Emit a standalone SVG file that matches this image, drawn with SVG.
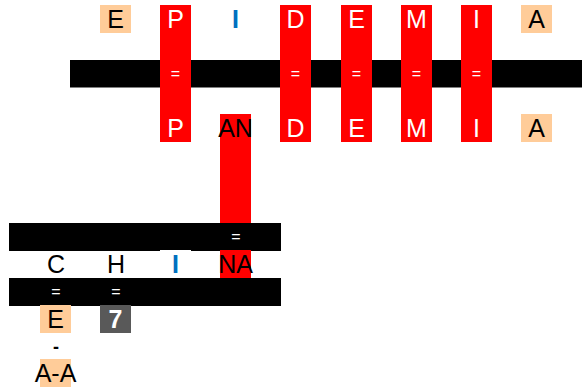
<svg xmlns="http://www.w3.org/2000/svg" width="582" height="390" viewBox="0 0 582 390">
<style>
.band{fill:#000}
.red{fill:#ff0000}
.peach{fill:#ffcc99}
.gray{fill:#595959}
.white{fill:#fff}
text{font-family:"Liberation Sans",Arial,sans-serif;text-anchor:middle}
.l{font-size:25px;fill:#000}
.lw{font-size:25px;fill:#fff}
.lb{font-size:25px;fill:#0070c0;font-weight:bold}
.eq{font-size:16px;fill:#fff}
.dash{font-size:18px;fill:#000;font-weight:bold}
.seven{font-size:25px;fill:#fff;font-weight:bold}
</style>
<rect x="0" y="0" width="582" height="390" fill="#fff"/>
<g id="connectors">
<rect class="band" x="70" y="60" width="512" height="27.5"/>
</g>
<g id="top-E"><rect class="peach" x="100" y="5" width="31" height="28"/><text class="l" x="115.5" y="28">E</text></g>
<g id="col-P"><rect class="red" x="160" y="5" width="31" height="137"/><text class="lw" x="175.5" y="28">P</text><text class="eq" x="175.5" y="79">=</text><text class="lw" x="175.5" y="137">P</text></g>
<g id="top-I"><text class="lb" x="235.5" y="28">I</text></g>
<g id="col-AN"><rect class="red" x="220" y="114" width="31" height="164"/><text class="l" x="235.5" y="137">AN</text></g>
<g id="col-D"><rect class="red" x="280" y="5" width="31" height="137"/><text class="lw" x="295.5" y="28">D</text><text class="eq" x="295.5" y="79">=</text><text class="lw" x="295.5" y="137">D</text></g>
<g id="col-E"><rect class="red" x="341" y="5" width="31" height="137"/><text class="lw" x="356.5" y="28">E</text><text class="eq" x="356.5" y="79">=</text><text class="lw" x="356.5" y="137">E</text></g>
<g id="col-M"><rect class="red" x="401" y="5" width="31" height="137"/><text class="lw" x="416.5" y="28">M</text><text class="eq" x="416.5" y="79">=</text><text class="lw" x="416.5" y="137">M</text></g>
<g id="col-I"><rect class="red" x="461" y="5" width="31" height="137"/><text class="lw" x="476.5" y="28">I</text><text class="eq" x="476.5" y="79">=</text><text class="lw" x="476.5" y="137">I</text></g>
<g id="top-A"><rect class="peach" x="521" y="5" width="31" height="28"/><text class="l" x="536.5" y="28">A</text></g>
<g id="bot-A"><rect class="peach" x="521" y="114" width="31" height="28"/><text class="l" x="536.5" y="137">A</text></g>
<g id="band1"><rect class="band" x="9" y="223" width="272" height="28"/><text class="eq" x="236" y="242">=</text></g>
<g id="row-C"><text class="l" x="56" y="273">C</text></g>
<g id="row-H"><text class="l" x="116" y="273">H</text></g>
<g id="row-I"><rect class="white" x="160" y="250" width="31" height="28"/><text class="lb" x="175.5" y="273">I</text></g>
<g id="row-NA"><rect class="red" x="220" y="250" width="31" height="28"/><text class="l" x="235.5" y="273">NA</text></g>
<g id="band2"><rect class="band" x="9" y="278" width="272" height="28"/><text class="eq" x="56" y="297">=</text><text class="eq" x="116" y="297">=</text></g>
<g id="E-cell"><rect class="peach" x="40" y="305" width="31" height="28"/><text class="l" x="55.5" y="328">E</text></g>
<g id="seven"><rect class="gray" x="100" y="305" width="31" height="28"/><text class="seven" x="115.5" y="328">7</text></g>
<g id="dash"><text class="dash" x="56" y="353">-</text></g>
<g id="AA"><rect class="peach" x="40" y="359" width="31" height="28"/><text class="l" x="55.5" y="382">A-A</text></g>
</svg>
